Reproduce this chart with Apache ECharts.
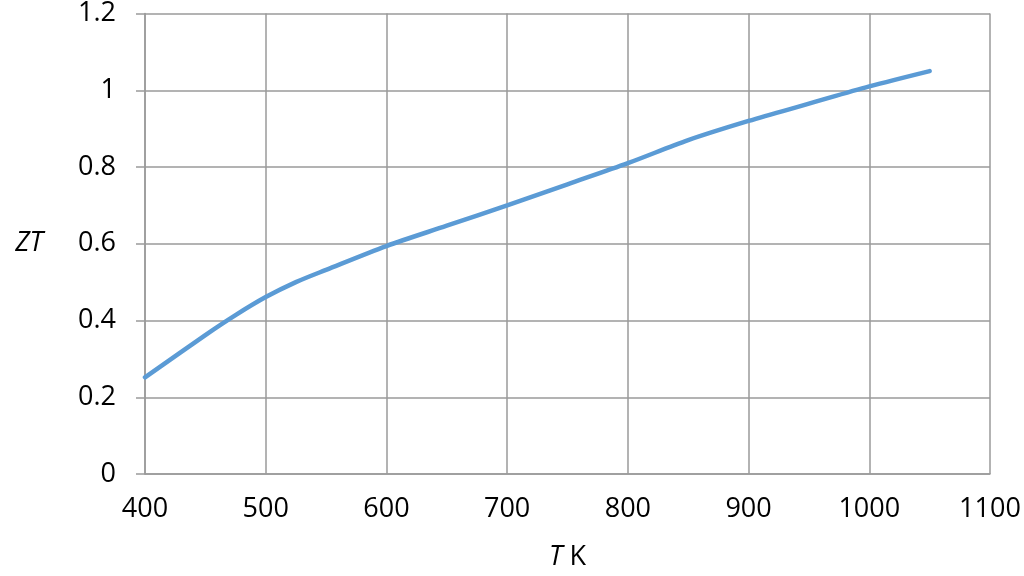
<!DOCTYPE html>
<html>
<head>
<meta charset="utf-8">
<script src="https://cdn.jsdelivr.net/npm/echarts@6/dist/echarts.min.js"></script>
<style>
  html, body { margin: 0; padding: 0; background: #fff; }
  #chart { width: 1024px; height: 576px; }
</style>
</head>
<body>
<div id="chart"></div>
<script>
// temperature (K) and figure of merit ZT
var temps = [400, 450, 475, 500, 525, 550, 600, 650, 700, 750, 800, 850, 900, 950, 1000, 1050];
var ztValues = [0.252, 0.362, 0.414, 0.461, 0.50, 0.532, 0.594, 0.647, 0.70, 0.755, 0.81, 0.87, 0.92, 0.965, 1.01, 1.05];

var FONT = '"Open Sans", sans-serif';
var FS = 27;
var GRID = '#9a9a9a';

var myChart = echarts.init(document.getElementById('chart'));

var points = temps.map(function (t, i) { return [t, ztValues[i]]; });

var option = {
    animation: false,
    grid: { left: 145, right: 34, top: 13, bottom: 102, containLabel: false },
    xAxis: {
        type: 'value',
        min: 400,
        max: 1100,
        interval: 100,
        name: '{i|T} K',
        nameLocation: 'middle',
        nameGap: 70,
        nameTextStyle: {
            fontFamily: FONT, fontSize: FS, color: '#000',
            rich: { i: { fontFamily: FONT, fontSize: FS, fontStyle: 'italic', color: '#000' } }
        },
        axisLine: { show: true, lineStyle: { color: GRID, width: 1.5 } },
        axisTick: { show: false },
        axisLabel: {
            fontFamily: FONT, fontSize: FS, color: '#000', margin: 22,
            formatter: function (v) { return String(v); }
        },
        splitLine: { show: true, lineStyle: { color: GRID, width: 1.5 } }
    },
    yAxis: {
        type: 'value',
        min: 0,
        max: 1.2,
        interval: 0.2,
        name: 'ZT',
        nameLocation: 'middle',
        nameRotate: 0,
        nameGap: 102,
        nameTextStyle: { fontFamily: FONT, fontSize: FS, fontStyle: 'italic', color: '#000' },
        axisLine: { show: true, lineStyle: { color: GRID, width: 1.5 } },
        axisTick: { show: true, length: 9, lineStyle: { color: GRID, width: 1.5 } },
        axisLabel: { fontFamily: FONT, fontSize: FS, color: '#000', margin: 29 },
        splitLine: { show: true, lineStyle: { color: GRID, width: 1.5 } }
    },
    series: [
        {
            type: 'line',
            data: points,
            smooth: 0.3,
            showSymbol: false,
            lineStyle: { color: '#5B9BD5', width: 4.5, cap: 'round' }
        }
    ]
};

myChart.setOption(option);
</script>
</body>
</html>
